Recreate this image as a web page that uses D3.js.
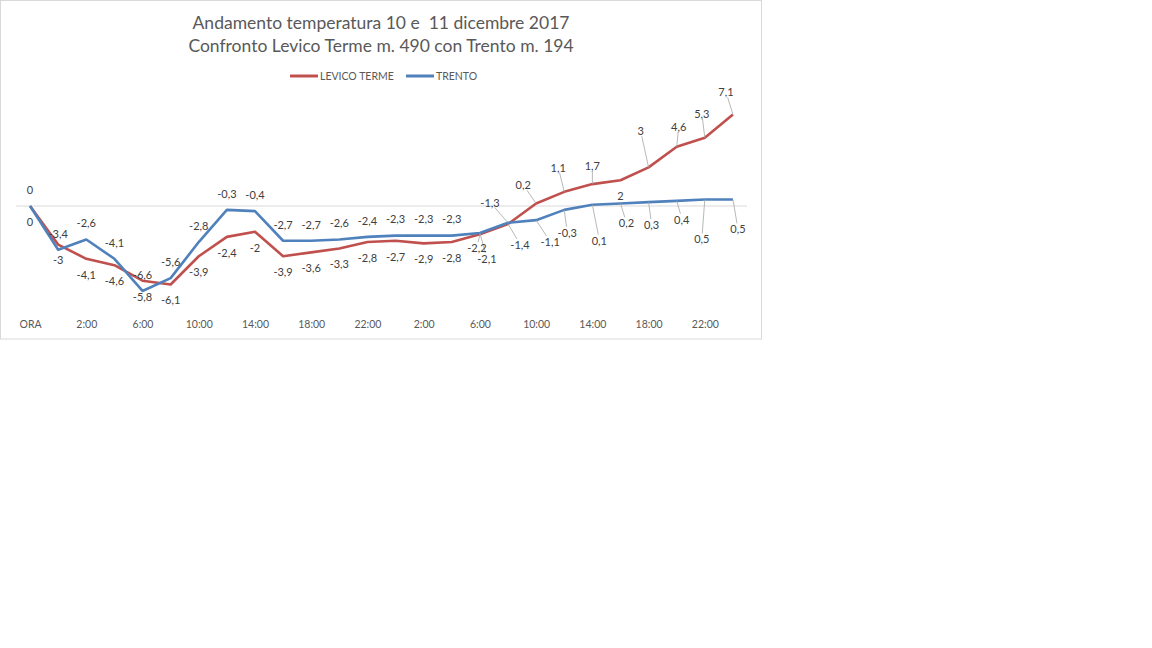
<!DOCTYPE html>
<html>
<head>
<meta charset="utf-8">
<script src="https://cdn.jsdelivr.net/npm/d3@7"></script>
<style>
  body { margin: 0; background: #fff; }
  text { font-family: Lato, "Liberation Sans", Arial, sans-serif; }
  .title { white-space: pre; }
</style>
</head>
<body>
<div id="chart"></div>
<script>
// categorie: ORA poi ogni 2 ore, due giorni
let categories = ["ORA",
  "0:00", "2:00", "4:00", "6:00", "8:00", "10:00", "12:00", "14:00", "16:00", "18:00", "20:00", "22:00",
  "0:00", "2:00", "4:00", "6:00", "8:00", "10:00", "12:00", "14:00", "16:00", "18:00", "20:00", "22:00",
  "0:00"];

let levico = [0, -3, -4.1, -4.6, -5.8, -6.1, -3.9, -2.4, -2, -3.9, -3.6, -3.3, -2.8,
  -2.7, -2.9, -2.8, -2.2, -1.4, 0.2, 1.1, 1.7, 2, 3, 4.6, 5.3, 7.1];

let trento = [0, -3.4, -2.6, -4.1, -6.6, -5.6, -2.8, -0.3, -0.4, -2.7, -2.7, -2.6, -2.4,
  -2.3, -2.3, -2.3, -2.1, -1.3, -1.1, -0.3, 0.1, 0.2, 0.3, 0.4, 0.5, 0.5];

let seriesNames = ["LEVICO TERME", "TRENTO"];
let titleLines = ["Andamento temperatura 10 e  11 dicembre 2017", "Confronto Levico Terme m. 490 con Trento m. 194"];

// etichette spostate a mano (indice -> [dx, dy]) come nel foglio originale
let levicoNudge = {16: [-3, 14], 17: [12, 21], 18: [-13, -18], 19: [-6, -24], 20: [0, -18],
  22: [-8, -36], 23: [2, -20], 24: [-3, -24], 25: [-7, -22]};
let trentoNudge = {16: [7, 26], 17: [-18, -20], 18: [14, 22], 19: [3, 23], 20: [7, 36],
  21: [6, 20], 22: [3, 23], 23: [5, 19], 24: [-3, 40], 25: [5, 30]};

let width = 1152, height = 648;

let svg = d3.select("#chart").append("svg")
  .attr("width", width)
  .attr("height", height);

// bordo dell'area grafico
svg.append("rect")
  .attr("x", 0.5).attr("y", 0.5)
  .attr("width", 761).attr("height", 338.5)
  .attr("fill", "#fff")
  .attr("stroke", "#d9d9d9");

let x = d3.scalePoint()
  .domain(d3.range(categories.length))
  .range([16, 747])
  .padding(0.5);

let y = d3.scaleLinear().domain([-8, 8]).range([309, 103]);

// titolo
svg.append("g").selectAll("text")
  .data(titleLines)
  .enter().append("text")
    .attr("class", "title")
    .attr("x", 381)
    .attr("y", function(d, i) { return 29 + i * 23; })
    .attr("text-anchor", "middle")
    .attr("font-size", "17.5px")
    .attr("fill", "#595959")
    .text(function(d) { return d; });

// legenda
let legendX = [290, 406];
let legend = svg.append("g").selectAll("g")
  .data(seriesNames)
  .enter().append("g")
    .attr("transform", function(d, i) { return `translate(${legendX[i]},76)`; });
legend.append("line")
  .attr("x1", 0).attr("x2", 28)
  .attr("stroke", function(d, i) { return i == 0 ? "#c0504d" : "#4f81bd"; })
  .attr("stroke-width", 3);
legend.append("text")
  .attr("x", 30).attr("y", 4)
  .attr("font-size", "10.5px")
  .attr("fill", "#595959")
  .text(function(d) { return d; });

// linea dello zero
svg.append("line")
  .attr("x1", 16).attr("x2", 747)
  .attr("y1", y(0)).attr("y2", y(0))
  .attr("stroke", "#d9d9d9");

// asse x
let xAxis = svg.append("g")
  .attr("transform", "translate(0,318)")
  .call(d3.axisBottom(x)
    .tickValues(x.domain().filter(function(d) { return d % 2 == 0; }))
    .tickFormat(function(d) { return categories[d]; })
    .tickSize(0));
xAxis.select(".domain").remove();
xAxis.selectAll("text")
  .attr("font-size", "10.5px")
  .attr("font-family", "Lato, 'Liberation Sans', Arial, sans-serif")
  .attr("fill", "#595959");

let line = d3.line()
  .x(function(d, i) { return x(i); })
  .y(function(d) { return y(d); });

let series = [
  {values: levico, color: "#c0504d", side: 1, nudge: levicoNudge},
  {values: trento, color: "#4f81bd", side: -1, nudge: trentoNudge}
];

svg.append("g").selectAll("path")
  .data(series)
  .enter().append("path")
    .attr("d", function(d) { return line(d.values); })
    .attr("fill", "none")
    .attr("stroke", function(d) { return d.color; })
    .attr("stroke-width", 2.6)
    .attr("stroke-linejoin", "round");

function fmt(v) { return String(v).replace(".", ","); }

let leaders = svg.append("g");
let labels = svg.append("g");

series.forEach(function(s) {
  s.values.forEach(function(v, i) {
    let px = x(i), py = y(v);
    let off = s.nudge[i] || [0, s.side * 16];
    let t = labels.append("text")
      .attr("x", px + off[0])
      .attr("y", py + off[1])
      .attr("dy", "0.35em")
      .attr("text-anchor", "middle")
      .attr("font-size", "11px")
      .attr("fill", "#404040")
      .text(fmt(v));
    if (s.nudge[i]) {
      let b = t.node().getBBox();
      let cx = b.x + b.width / 2, cy = b.y + b.height / 2;
      let dx = px - cx, dy = py - cy;
      // punto di uscita dal riquadro dell'etichetta
      let k = Math.min(
        dx == 0 ? Infinity : (b.width / 2 + 1) / Math.abs(dx),
        dy == 0 ? Infinity : (b.height / 2 - 1) / Math.abs(dy));
      if (k < 0.8) {
        leaders.append("line")
          .attr("x1", cx + dx * k).attr("y1", cy + dy * k)
          .attr("x2", px).attr("y2", py)
          .attr("stroke", "#a6a6a6")
          .attr("stroke-width", 0.8);
      }
    }
  });
});
</script>
</body>
</html>
